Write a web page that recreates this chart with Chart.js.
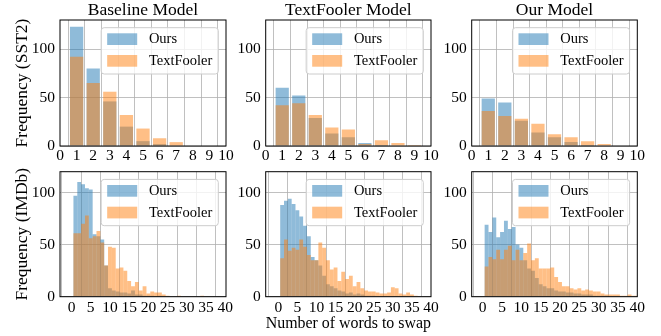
<!DOCTYPE html>
<html><head><meta charset="utf-8">
<script src="https://cdn.jsdelivr.net/npm/chart.js@4.4.1/dist/chart.umd.min.js"></script>
<style>
html,body{margin:0;padding:0;background:#fff;width:661px;height:336px;overflow:hidden}
canvas{position:absolute;left:0;top:0}
</style></head><body>
<canvas id="c0" width="661" height="336"></canvas>
<canvas id="c1" width="661" height="336"></canvas>
<canvas id="c2" width="661" height="336"></canvas>
<canvas id="c3" width="661" height="336"></canvas>
<canvas id="c4" width="661" height="336"></canvas>
<canvas id="c5" width="661" height="336"></canvas>
<script>
// ---------- data ----------
const modelTitles = ['Baseline Model', 'TextFooler Model', 'Our Model'];
const seriesNames = ['Ours', 'TextFooler'];
const rowLabels = ['Frequency (SST2)', 'Frequency (IMDb)'];
const xLabel = 'Number of words to swap';

const sstWords = [1, 2, 3, 4, 5, 6, 7, 8, 9];
const sstXTicks = [0, 1, 2, 3, 4, 5, 6, 7, 8, 9, 10];
const sstYTicks = [0, 50, 100];
const sstBaselineOurs = [123, 80, 46, 20, 5, 2, 0, 0, 0];
const sstBaselineTF   = [92, 65, 56, 32, 18, 8, 4, 0, 0];
const sstTextFoolerOurs = [60, 52, 29, 13, 9, 3, 1, 0, 0];
const sstTextFoolerTF   = [42, 44, 32, 19, 17, 2, 6, 3, 1];
const sstOurOurs = [49, 45, 26, 14, 9, 4, 1, 0, 0];
const sstOurTF   = [36, 31, 28, 23, 12, 9, 5, 2, 0];

const imdbWords = [1,2,3,4,5,6,7,8,9,10,11,12,13,14,15,16,17,18,19,20,21,22,23,24,25,26,27,28,29,30,31,32,33,34,35,36,37,38,39,40];
const imdbXTicks = [0, 5, 10, 15, 20, 25, 30, 35, 40];
const imdbYTicks = [0, 50, 100];
const imdbBaselineOurs = [97,110,108,104,103,60,58,55,30,8,6,5,4,4,3,6,2,2,1,1,1,0,1,0,0,0,0,0,0,0,0,0,0,0,0,0,0,0,0,0];
const imdbBaselineTF   = [61,61,70,78,56,58,63,52,30,48,47,27,28,25,15,10,14,6,10,3,5,4,4,2,1,0,0,1,0,0,0,0,0,1,0,0,0,0,0,0];
const imdbTextFoolerOurs = [88,92,94,89,83,77,68,58,38,35,30,20,12,10,8,6,5,3,4,2,3,2,1,1,1,0,0,0,0,0,0,0,0,0,0,0,0,0,0,0];
const imdbTextFoolerTF   = [37,55,44,47,45,55,48,40,35,35,52,47,35,26,28,15,24,17,20,10,14,8,6,5,5,4,3,3,4,9,8,3,2,4,2,1,0,0,0,0];
const imdbOurOurs = [69,62,76,57,62,73,65,67,50,47,35,27,25,18,12,10,8,8,6,5,5,4,4,3,3,2,2,2,1,1,1,1,0,0,0,0,0,0,0,0];
const imdbOurTF   = [29,38,36,45,36,45,49,35,45,35,42,51,35,37,27,27,27,28,19,14,10,10,8,7,8,6,7,6,5,5,3,2,2,2,2,1,1,2,1,1];

// ---------- styling / layout ----------
const FONT = "'Liberation Serif', 'Times New Roman', serif";
Chart.defaults.font.family = FONT;
Chart.defaults.color = '#000';
const BLUE = 'rgba(31,119,180,0.5)';
const ORANGE = 'rgba(255,127,14,0.5)';
const W = 661, H = 336;
const colLeft = [60, 265.7, 471.7], colRight = [226, 431, 637.3];
const rowTop = [20, 171.7], rowBottom = [146, 296.7];

const framePlugin = {
  id: 'frameLegend',
  afterDatasetsDraw(chart) {
    const {ctx, chartArea: a} = chart;
    ctx.save();
    // spines
    ctx.strokeStyle = '#000'; ctx.lineWidth = 1;
    ctx.strokeRect(a.left, a.top, a.right - a.left, a.bottom - a.top);
    // legend
    const ds = chart.data.datasets;
    ctx.font = '14.5px ' + FONT;
    const tw = Math.max(...ds.map(d => ctx.measureText(d.label).width));
    const w = 6 + 30 + 11.7 + tw + 6, h = 46.3;
    const x = a.right - 7.7 - w, y = a.top + 7.7;
    ctx.beginPath();
    ctx.roundRect(x, y, w, h, 3);
    ctx.fillStyle = 'rgba(255,255,255,0.8)'; ctx.fill();
    ctx.strokeStyle = '#cccccc'; ctx.lineWidth = 1; ctx.stroke();
    ds.forEach((d, i) => {
      const py = y + 5.6 + i * 21.7;
      ctx.fillStyle = d.backgroundColor;
      ctx.fillRect(x + 6, py, 30, 11.7);
      ctx.fillStyle = '#000';
      ctx.textBaseline = 'middle'; ctx.textAlign = 'left';
      ctx.fillText(d.label, x + 6 + 30 + 11.7, py + 6.3);
    });
    ctx.restore();
  }
};

function makeChart(id, r, c, words, ours, tf, xTicks, yTicks, xMin, xMax, yMax, ratio) {
  const yW = c === 0 ? 60 - 11.8 : 40;
  const hasXTitle = (r === 1 && c === 1);
  const xH = hasXTitle ? 37.5 : 20;
  const titleH = 17.5 + 0.45;
  const padTop = r === 0 ? rowTop[0] - titleH : rowTop[1];
  const padBottom = H - rowBottom[r] - xH;
  const mk = (arr) => words.map((wd, i) => ({x: wd, y: arr[i]}));
  new Chart(document.getElementById(id), {
    type: 'bar',
    data: {
      datasets: [
        {label: seriesNames[0], data: mk(ours), backgroundColor: BLUE, order: 1},
        {label: seriesNames[1], data: mk(tf), backgroundColor: ORANGE, order: 0}
      ]
    },
    options: {
      responsive: false, animation: false, devicePixelRatio: 1,
      layout: {padding: {left: colLeft[c] - yW, right: W - colRight[c], top: padTop, bottom: padBottom}},
      datasets: {bar: {grouped: false, categoryPercentage: ratio, barPercentage: 1, borderWidth: 0, inflateAmount: 0}},
      plugins: {
        legend: {display: false}, tooltip: {enabled: false},
        title: {display: r === 0, text: modelTitles[c], fullSize: false, color: '#000',
                font: {size: 17.5, weight: 'normal', lineHeight: 1.0}, padding: {top: 0, bottom: 0.45}}
      },
      scales: {
        x: {
          type: 'linear', min: xMin, max: xMax, offset: false,
          afterBuildTicks: s => { s.ticks = xTicks.map(v => ({value: v})); },
          afterFit: s => { s.height = xH; },
          grid: {color: '#b0b0b0', lineWidth: 0.8, drawTicks: false},
          border: {display: false},
          ticks: {autoSkip: false, maxRotation: 0, padding: r === 0 ? 1.95 : 3.35,
                  font: {size: 15.5, lineHeight: 1.0}, color: '#000'},
          title: hasXTitle ? {display: true, text: xLabel, color: '#000',
                  font: {size: 17, lineHeight: 1.2}, padding: 0} : {display: false}
        },
        y: {
          type: 'linear', min: 0, max: yMax,
          afterBuildTicks: s => { s.ticks = yTicks.map(v => ({value: v})); },
          afterFit: s => { s.width = yW; },
          grid: {color: '#b0b0b0', lineWidth: 0.8, drawTicks: false},
          border: {display: false},
          ticks: {padding: 5, font: {size: 15.5}, color: '#000'},
          title: c === 0 ? {display: true, text: rowLabels[r], color: '#000',
                  font: {size: 17.5, lineHeight: 1.2}, padding: 0} : {display: false}
        }
      }
    },
    plugins: [framePlugin]
  });
}

makeChart('c0', 0, 0, sstWords, sstBaselineOurs, sstBaselineTF, sstXTicks, sstYTicks, 0, 10, 130, 0.8);
makeChart('c1', 0, 1, sstWords, sstTextFoolerOurs, sstTextFoolerTF, sstXTicks, sstYTicks, 0, 10, 130, 0.8);
makeChart('c2', 0, 2, sstWords, sstOurOurs, sstOurTF, sstXTicks, sstYTicks, 0, 10, 130, 0.8);
makeChart('c3', 1, 0, imdbWords, imdbBaselineOurs, imdbBaselineTF, imdbXTicks, imdbYTicks, -3, 40.2, 120, 1);
makeChart('c4', 1, 1, imdbWords, imdbTextFoolerOurs, imdbTextFoolerTF, imdbXTicks, imdbYTicks, -3.3, 40, 120, 1);
makeChart('c5', 1, 2, imdbWords, imdbOurOurs, imdbOurTF, imdbXTicks, imdbYTicks, -2.85, 40, 120, 1);
</script>
</body></html>
